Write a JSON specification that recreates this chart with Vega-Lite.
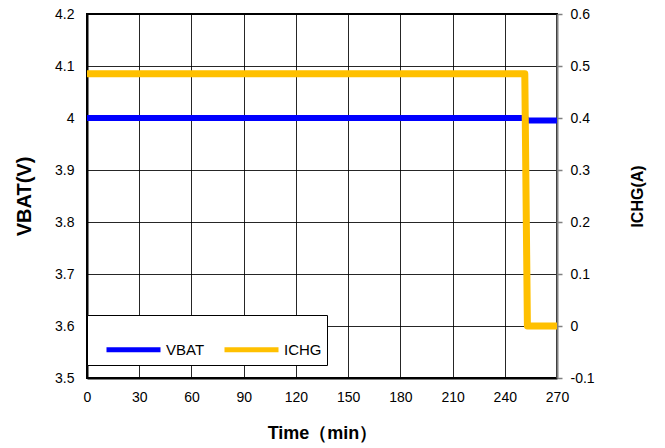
{
  "$schema": "https://vega.github.io/schema/vega-lite/v6.json",
  "width": 470,
  "height": 364,
  "autosize": {"type": "none"},
  "padding": {"left": 87, "top": 14, "right": 108, "bottom": 70},
  "background": "#ffffff",
  "config": {
    "font": "Liberation Sans",
    "view": {"stroke": "#000000", "strokeWidth": 2},
    "axis": {
      "labelFontSize": 14,
      "labelColor": "#000000",
      "titleColor": "#000000",
      "titleFontWeight": "bold",
      "gridColor": "#000000",
      "gridWidth": 1,
      "gridOpacity": 0.85,
      "domainColor": "#000000",
      "domainWidth": 2
    }
  },
  "datasets": {
    "d": [
      {"t": 0, "value": 4.0, "series": "VBAT"},
      {"t": 252, "value": 4.0, "series": "VBAT"},
      {"t": 252.5, "value": 3.995, "series": "VBAT"},
      {"t": 270, "value": 3.995, "series": "VBAT"},
      {"t": 0, "value": 0.485, "series": "ICHG"},
      {"t": 251.5, "value": 0.485, "series": "ICHG"},
      {"t": 253, "value": 0, "series": "ICHG"},
      {"t": 270, "value": 0, "series": "ICHG"}
    ]
  },
  "data": {"name": "d"},
  "layer": [
    {
      "transform": [{"filter": "datum.series === 'VBAT'"}],
      "mark": {"type": "line", "strokeWidth": 6, "strokeJoin": "round"},
      "encoding": {
        "x": {
          "field": "t",
          "type": "quantitative",
          "scale": {"domain": [0, 270], "nice": false, "zero": false},
          "axis": {
            "values": [0, 30, 60, 90, 120, 150, 180, 210, 240, 270],
            "title": "Time（min）",
            "titleFontSize": 18,
            "titlePadding": 20,
            "ticks": false,
            "labelPadding": 12,
            "grid": true,
            "labelFlush": false
          }
        },
        "y": {
          "field": "value",
          "type": "quantitative",
          "scale": {"domain": [3.5, 4.2], "nice": false, "zero": false},
          "axis": {
            "orient": "left",
            "values": [3.5, 3.6, 3.7, 3.8, 3.9, 4, 4.1, 4.2],
            "labelExpr": "'' + datum.value",
            "title": "VBAT(V)",
            "titleFontSize": 20,
            "titlePadding": 20,
            "ticks": false,
            "labelPadding": 13,
            "grid": true
          }
        },
        "color": {
          "field": "series",
          "type": "nominal",
          "scale": {"domain": ["VBAT", "ICHG"], "range": ["#0000FF", "#FFC000"]},
          "legend": {
            "orient": "none",
            "legendX": 0,
            "legendY": 301,
            "direction": "horizontal",
            "title": null,
            "symbolType": "stroke",
            "symbolSize": 2916,
            "symbolStrokeWidth": 5,
            "labelFontSize": 15,
            "labelColor": "#000000",
            "labelOffset": 3,
            "columnPadding": 5,
            "fillColor": "#ffffff",
            "strokeColor": "#000000",
            "padding": 5,
            "symbolOffset": 12
          }
        }
      }
    },
    {
      "transform": [{"filter": "datum.series === 'ICHG'"}],
      "mark": {"type": "line", "strokeWidth": 7, "strokeJoin": "round"},
      "encoding": {
        "x": {"field": "t", "type": "quantitative"},
        "y": {
          "field": "value",
          "type": "quantitative",
          "scale": {"domain": [-0.1, 0.6], "nice": false, "zero": false},
          "axis": {
            "orient": "right",
            "values": [-0.1, 0, 0.1, 0.2, 0.3, 0.4, 0.5, 0.6],
            "labelExpr": "'' + datum.value",
            "title": "ICHG(A)",
            "titleFontSize": 16,
            "titleAngle": 270,
            "titleBaseline": "top",
            "titlePadding": 35,
            "grid": false,
            "domainColor": "#808080",
            "ticks": true,
            "tickColor": "#808080",
            "tickSize": 5,
            "tickWidth": 1.5,
            "labelPadding": 8
          }
        },
        "color": {"field": "series", "type": "nominal"}
      }
    }
  ],
  "resolve": {"scale": {"y": "independent"}}
}
